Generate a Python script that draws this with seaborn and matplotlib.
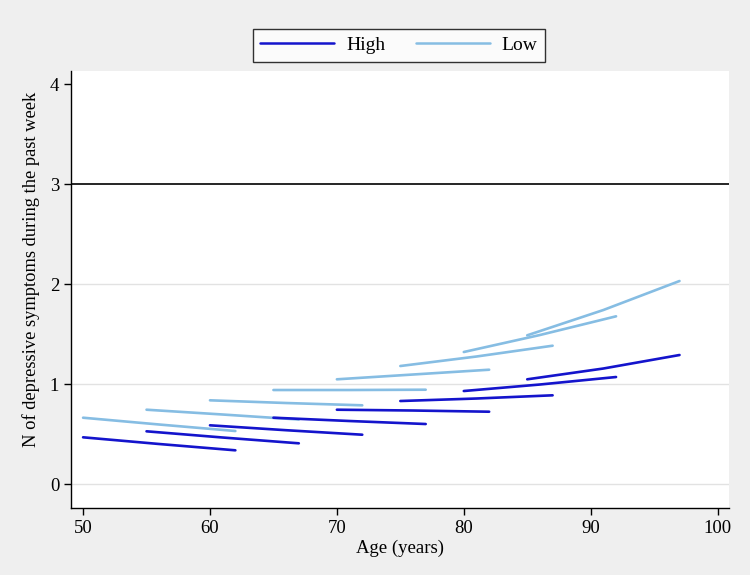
import pandas as pd
import numpy as np
import matplotlib.pyplot as plt
import seaborn as sns

sns.set_style("white")
plt.rcParams["font.family"] = ["Liberation Serif", "DejaVu Serif"]
plt.rcParams["text.color"] = "black"
plt.rcParams["axes.labelcolor"] = "black"
plt.rcParams["xtick.color"] = "black"
plt.rcParams["ytick.color"] = "black"

# cohort start ages; each cohort followed for 12 years (read at start, +6, +12)
cohort_start = [50, 55, 60, 65, 70, 75, 80, 85]
age_offsets = [0, 6, 12]

high_vals = [
    [0.467, 0.400, 0.337],
    [0.527, 0.465, 0.407],
    [0.587, 0.538, 0.493],
    [0.663, 0.630, 0.600],
    [0.743, 0.735, 0.723],
    [0.830, 0.855, 0.887],
    [0.930, 0.995, 1.070],
    [1.047, 1.155, 1.290],
]
low_vals = [
    [0.663, 0.595, 0.530],
    [0.743, 0.695, 0.645],
    [0.837, 0.810, 0.787],
    [0.940, 0.940, 0.943],
    [1.047, 1.095, 1.143],
    [1.180, 1.275, 1.383],
    [1.320, 1.490, 1.677],
    [1.487, 1.740, 2.030],
]

rows = []
for grp, vals in [("Low", low_vals), ("High", high_vals)]:
    for start, v in zip(cohort_start, vals):
        for off, y in zip(age_offsets, v):
            rows.append({"group": grp, "cohort": start, "age": start + off, "n": y})
df = pd.DataFrame(rows)

fig = plt.figure(figsize=(7.5, 5.75), dpi=100)
fig.patch.set_facecolor("#efefef")
ax = fig.add_axes([0.0947, 0.1165, 0.8773, 0.76])
ax.set_facecolor("white")

for y in [0, 1, 2]:
    ax.axhline(y, color="#e2e2e2", lw=1.0, zorder=0)
ax.axhline(3, color="black", lw=1.2, zorder=1)

palette = {"High": "#1414cc", "Low": "#86bde3"}
sns.lineplot(data=df, x="age", y="n", hue="group", units="cohort",
             estimator=None, palette=palette, lw=1.9, ax=ax, legend=False,
             hue_order=["Low", "High"])

ax.set_xlim(49.05, 100.9)
ax.set_ylim(-0.24, 4.13)
ax.set_xticks([50, 60, 70, 80, 90, 100])
ax.set_yticks([0, 1, 2, 3, 4])
ax.tick_params(axis="both", direction="out", length=5, width=1, color="black",
               labelsize=13.5, bottom=True, left=True)
for s in ["top", "right"]:
    ax.spines[s].set_visible(False)
for s in ["left", "bottom"]:
    ax.spines[s].set_color("black")
    ax.spines[s].set_linewidth(1.0)

ax.set_xlabel("Age (years)", fontsize=13.5, labelpad=2)
ax.set_ylabel("N of depressive symptoms during the past week", fontsize=13.3)
ax.yaxis.set_label_coords(-0.047, 0.547)

handles = [plt.Line2D([], [], color=palette["High"], lw=1.8),
           plt.Line2D([], [], color=palette["Low"], lw=1.8)]
leg = fig.legend(handles, ["High", "Low"], loc="center", ncol=2,
                 bbox_to_anchor=(0.532, 0.921), frameon=True, fancybox=False,
                 fontsize=14, handlelength=3.8, columnspacing=1.6,
                 handletextpad=0.6, borderpad=0.4, borderaxespad=0)
leg.get_frame().set_edgecolor("black")
leg.get_frame().set_linewidth(1.0)

plt.savefig("out.png", dpi=100, facecolor=fig.get_facecolor())
